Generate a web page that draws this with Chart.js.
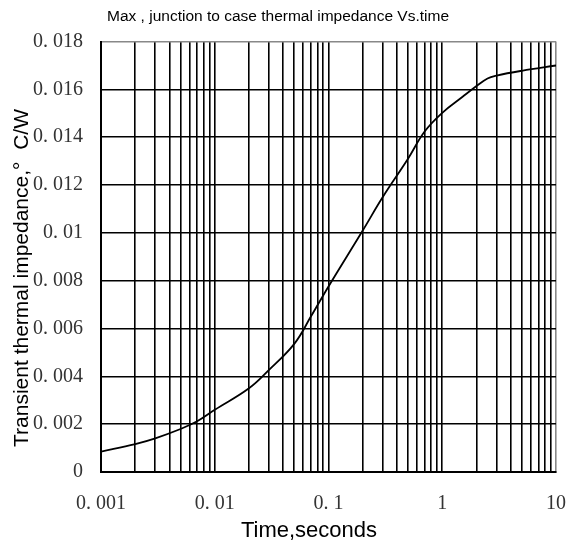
<!DOCTYPE html>
<html>
<head>
<meta charset="utf-8">
<script src="https://cdn.jsdelivr.net/npm/chart.js@4"></script>
<style>
  html, body { margin: 0; padding: 0; background: #fff; }
  #wrap { width: 577px; height: 546px; }
</style>
</head>
<body>
<div id="wrap"><canvas id="thermChart" width="577" height="546"></canvas></div>
<script>
// curve
const times = [0.001, 0.002, 0.003, 0.005, 0.007, 0.01, 0.02, 0.03, 0.05, 0.07, 0.1,
  0.2, 0.3, 0.5, 0.7, 1, 1.5, 2, 2.5, 3, 5, 10];
const impedance = [0.00085, 0.00117, 0.00141, 0.0018, 0.00212, 0.0026, 0.0035, 0.00427, 0.00536, 0.0065, 0.00776,
  0.0101, 0.0115, 0.0131, 0.01424, 0.01502, 0.01568, 0.01614, 0.01646, 0.01658, 0.01678, 0.017];

const decades = [0.001, 0.01, 0.1, 1, 10];
const multipliers = [1, 2, 3, 4, 5, 6, 7, 8, 9];
const yMin = 0;
const yMax = 0.018;
const yStep = 0.002;

const titleText = "Max , junction to case thermal impedance Vs.time";
const xTitle = "Time,seconds";
const yTitle = "Transient thermal impedance,\u00B0  C/W";

const xTickValues = [];
decades.forEach((d, i) => {
  if (i === decades.length - 1) { xTickValues.push(d); return; }
  multipliers.forEach((m) => xTickValues.push(+(d * m).toPrecision(6)));
});

const fmtY = (v) => {
  if (Math.abs(v) < 1e-9) return "0";
  let s = v.toFixed(3).replace(/0+$/, "");
  return s.replace("0.", "0. ");
};
const fmtX = (v) => {
  if (v >= 1) return String(v);
  return String(v).replace("0.", "0. ");
};

const sans = "'Liberation Sans', Arial, sans-serif";
const serif = "'Liberation Serif', 'Times New Roman', serif";

const axisTitles = {
  id: "axisTitles",
  afterDraw(chart) {
    const ctx = chart.ctx;
    ctx.save();
    ctx.fillStyle = "#000";
    ctx.textAlign = "center";
    ctx.textBaseline = "middle";
    ctx.font = "22px " + sans;
    ctx.fillText(xTitle, 309, 531);
    ctx.font = "21px " + sans;
    ctx.translate(22, 278);
    ctx.rotate(-Math.PI / 2);
    ctx.fillText(yTitle, 0, 0);
    ctx.restore();
  },
};

new Chart(document.getElementById("thermChart"), {
  type: "line",
  data: {
    datasets: [{
      data: times.map((t, i) => ({ x: t, y: impedance[i] })),
      borderColor: "#000",
      borderWidth: 1.8,
      pointRadius: 0,
      fill: false,
      tension: 0.4,
    }],
  },
  options: {
    responsive: false,
    animation: false,
    devicePixelRatio: 1,
    layout: { padding: { left: 0, right: 21, top: 0, bottom: 0 } },
    plugins: {
      legend: { display: false },
      tooltip: { enabled: false },
      title: {
        display: true,
        text: titleText,
        color: "#000",
        font: { family: sans, size: 15.5, weight: "normal" },
        padding: { top: 7, bottom: 16 },
      },
    },
    scales: {
      x: {
        type: "logarithmic",
        min: 0.001,
        max: 10,
        afterBuildTicks: (scale) => { scale.ticks = xTickValues.map((v) => ({ value: v })); },
        afterFit: (scale) => {
          scale.height = 74;
          scale.paddingLeft = 0;
          scale.paddingRight = 0;
        },
        ticks: {
          autoSkip: false,
          maxRotation: 0,
          padding: 20,
          color: "#333",
          font: { family: serif, size: 20 },
          callback: (v) => (decades.some((d) => Math.abs(d - v) / d < 1e-6) ? fmtX(v) : ""),
        },
        grid: {
          color: (c) => (c.tick && Math.abs(c.tick.value - 10) < 1e-6 ? "#888" : "#000"),
          lineWidth: 1.6,
          drawTicks: false,
        },
        border: { display: true, color: "#000", width: 2 },
      },
      y: {
        min: yMin,
        max: yMax,
        afterFit: (scale) => {
          scale.width = 101;
          scale.paddingTop = 0;
          scale.paddingBottom = 0;
        },
        ticks: {
          stepSize: yStep,
          padding: 18,
          color: "#333",
          font: { family: serif, size: 20 },
          callback: (v) => fmtY(v),
        },
        grid: {
          color: (c) => (c.tick && Math.abs(c.tick.value - yMax) < 1e-9 ? "#888" : "#000"),
          lineWidth: 1.6,
          drawTicks: false,
        },
        border: { display: true, color: "#000", width: 2 },
      },
    },
  },
  plugins: [axisTitles],
});
</script>
</body>
</html>
